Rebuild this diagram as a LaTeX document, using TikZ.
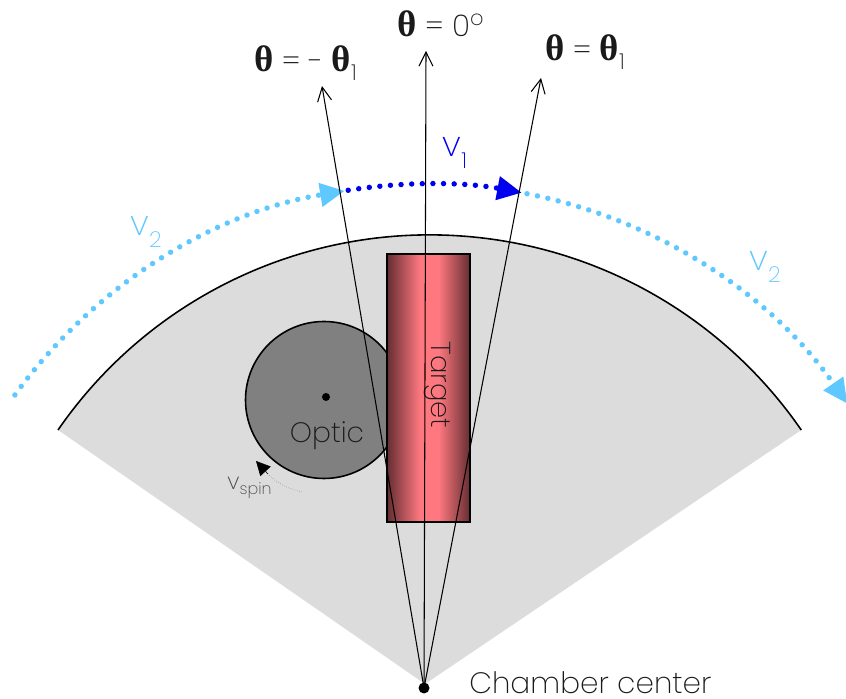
\documentclass[tikz,border=0pt]{standalone}
\usepackage{fontspec}
\setmainfont{Poppins}[UprightFont=* ExtraLight]
\newfontfamily\thetafont{Liberation Serif}[BoldFont=* Bold]
\usetikzlibrary{arrows.meta}
\definecolor{sectorgray}{HTML}{DCDCDC}
\definecolor{opticgray}{HTML}{808080}
\definecolor{vonecolor}{HTML}{0000F0}
\definecolor{vtwocolor}{HTML}{5FC8FF}
\definecolor{targetedge}{HTML}{642E32}
\definecolor{targetmid}{HTML}{FF7880}
\definecolor{labeltext}{HTML}{1A1A1A}
\pgfdeclarehorizontalshading{targetshade}{100bp}{color(0bp)=(targetedge); color(25bp)=(targetedge); color(45bp)=(targetmid); color(56bp)=(targetmid); color(75bp)=(targetedge); color(100bp)=(targetedge)}
\newcommand{\thb}{{\fontsize{21}{21}\thetafont\bfseries θ}}
\newcommand{\lowsub}[1]{\raisebox{-0.32em}{\fontsize{12.5}{12.5}\selectfont #1}}
\tikzset{
  ray/.style={draw=black, line width=0.6pt, -{Straight Barb[length=8pt,width=8pt]}},
  vonearc/.style={vonecolor, line width=3.1pt, line cap=round, dash pattern=on 0pt off 6.05pt, -{Triangle[length=14pt,width=13pt]}},
  vtwoarc/.style={vtwocolor, line width=3.1pt, line cap=round, dash pattern=on 0pt off 6.05pt, -{Triangle[length=14pt,width=13pt]}},
  rimline/.style={black, line width=0.9pt},
  bigtext/.style={text=labeltext, font=\fontsize{16}{18}\selectfont, inner sep=0pt},
  veltext/.style={font=\fontsize{20}{22}\selectfont, inner sep=0pt},
  thetalabel/.style={text=labeltext, font=\fontsize{17}{20}\selectfont, inner sep=0pt},
  dotnode/.style={circle, fill=black, inner sep=0pt}
}
\begin{document}
\begin{tikzpicture}
  \useasboundingbox (0,0) rectangle (16.92,13.98);
  % gray sector
  \fill[sectorgray] (8.5,0.3) -- (1.16,5.38) arc (145.4:34.6:9.03) -- cycle;
  \draw[rimline] (1.16,5.38) arc (145.4:34.6:9.03);
  % velocity arcs
  \coordinate (arccenter) at (8.56,0.1);
  \draw[vtwoarc, shift={(arccenter)}] (144.1:10.2) arc (144.1:99.4:10.2);
  \draw[vonearc, shift={(arccenter)}] (99:10.2) arc (99:79.4:10.2);
  \draw[vtwoarc, shift={(arccenter)}] (78.8:10.2) arc (78.8:34.7:10.2);
  % optic
  \node[circle, draw=black, line width=0.9pt, fill=opticgray, minimum size=3.14cm, inner sep=0pt] (optic) at (6.48,5.98) {};
  \node[dotnode, minimum size=0.16cm] (opticdot) at (6.52,6.04) {};
  \node[bigtext] (optictext) at (6.54,5.27) {Optic};
  % target
  \node[rectangle, draw=black, line width=0.9pt, shading=targetshade, minimum width=1.66cm, minimum height=5.36cm, inner sep=0pt] (target) at (8.57,6.22) {};
  \node[bigtext, font=\fontsize{15.6}{18}\selectfont, rotate=270] (targettext) at (8.74,6.28) {Target};
  % spin arrow
  \coordinate (spinstart) at (6.04,4.14);
  \coordinate (spintip) at (5.12,4.76);
  \draw[gray, line width=0.3pt, densely dotted] (spinstart) .. controls (5.7,4.22) and (5.52,4.34) .. (5.36,4.5);
  \draw[-{Triangle[length=8pt,width=8pt]}, black, line width=0.3pt] (5.36,4.5) -- (spintip);
  \node[text=labeltext!80, font=\fontsize{13}{15}\selectfont, inner sep=0pt] (spinlabel) at (5,4.22) {v\textsubscript{spin}};
  % rays
  \node[dotnode, minimum size=0.22cm] (chamber) at (8.48,0.22) {};
  \coordinate (raymin) at (6.44,12.26);
  \coordinate (rayzero) at (8.52,12.96);
  \coordinate (rayplus) at (10.82,12.42);
  \draw[ray] (chamber.center) -- (raymin);
  \draw[ray] (chamber.center) -- (rayzero);
  \draw[ray] (chamber.center) -- (rayplus);
  % labels
  \node[thetalabel] (labelmin) at (6.11,12.72) {\thb{} = - \thb\lowsub{1}};
  \node[thetalabel] (labelzero) at (8.82,13.5) {\thb{} = 0\textsuperscript{o}};
  \node[thetalabel] (labelplus) at (11.7,12.94) {\thb{} = \thb\lowsub{1}};
  \node[veltext, text=vonecolor] (vone) at (9.1,10.92) {v\lowsub{1}};
  \node[veltext, text=vtwocolor] (vtwoleft) at (2.92,9.34) {v\lowsub{2}};
  \node[veltext, text=vtwocolor] (vtworight) at (15.3,8.64) {v\lowsub{2}};
  \node[bigtext, font=\fontsize{16.8}{18}\selectfont, anchor=base west] (chambertext) at (9.38,0.11) {Chamber center};
\end{tikzpicture}
\end{document}
